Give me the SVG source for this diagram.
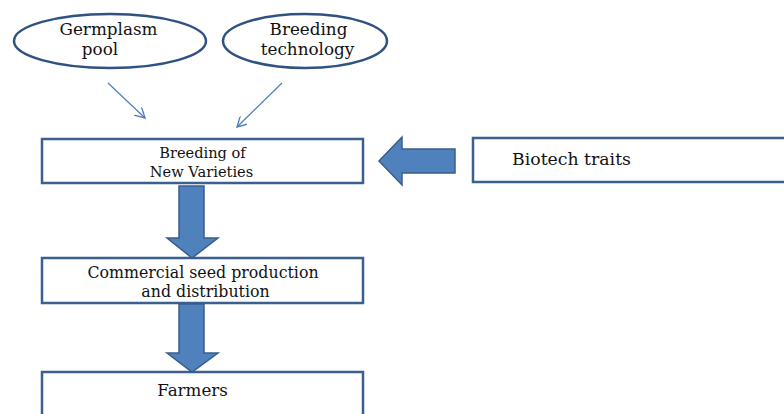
<svg xmlns="http://www.w3.org/2000/svg" width="784" height="414" viewBox="0 0 784 414">
  <defs>
    <style>
      .oval { fill: #ffffff; stroke: #2f5283; stroke-width: 2.5; }
      .box { fill: #ffffff; stroke: #3b5f8e; stroke-width: 2.5; }
      .block { fill: #4f81bd; stroke: #385d8a; stroke-width: 1.5; }
      .thin { fill: none; stroke: #4a7ebb; stroke-width: 1.2; }
      text { font-family: "DejaVu Serif", "Liberation Serif", serif; fill: #111111; }
      .lg { font-size: 17.3px; }
      .ov { font-size: 16.8px; }
      .md { font-size: 15.8px; }
      .fm { font-size: 16.7px; }
      .sm { font-size: 14.6px; }
    </style>
    <marker id="vhead" viewBox="0 0 10 10" refX="9" refY="5" markerWidth="11" markerHeight="11" markerUnits="userSpaceOnUse" orient="auto">
      <path d="M0,0 L9,5 L0,10" fill="none" stroke="#4a7ebb" stroke-width="1.2"/>
    </marker>
  </defs>

  <g id="germplasm-pool">
    <ellipse class="oval" cx="110" cy="41" rx="96" ry="27"/>
    <text class="ov" x="108.5" y="35" text-anchor="middle">Germplasm</text>
    <text class="ov" x="100" y="55" text-anchor="middle">pool</text>
  </g>

  <g id="breeding-technology">
    <ellipse class="oval" cx="305" cy="41" rx="82" ry="27"/>
    <text class="ov" x="308.5" y="35" text-anchor="middle">Breeding</text>
    <text class="ov" x="307.5" y="55" text-anchor="middle">technology</text>
  </g>

  <g id="breeding-new-varieties">
    <rect class="box" x="42" y="139" width="321" height="44"/>
    <text class="sm" x="202.5" y="158" text-anchor="middle">Breeding of</text>
    <text class="sm" x="201.5" y="177" text-anchor="middle">New Varieties</text>
  </g>

  <g id="biotech-traits">
    <rect class="box" x="473" y="138" width="320" height="44"/>
    <text class="lg" x="512" y="165">Biotech traits</text>
  </g>

  <g id="commercial-seed">
    <rect class="box" x="42" y="258" width="321" height="45"/>
    <text class="md" x="203" y="278" text-anchor="middle">Commercial seed production</text>
    <text class="md" x="205.5" y="297" text-anchor="middle">and distribution</text>
  </g>

  <g id="farmers">
    <rect class="box" x="42" y="372" width="321" height="60"/>
    <text class="fm" x="192.5" y="396" text-anchor="middle">Farmers</text>
  </g>

  <g id="connectors">
    <line class="thin" x1="108" y1="83" x2="145" y2="118" marker-end="url(#vhead)"/>
    <line class="thin" x1="282" y1="83" x2="237" y2="127" marker-end="url(#vhead)"/>
    <path class="block" d="M179,186 H204 V238 H218 L192,258 L167,238 H179 Z"/>
    <path class="block" d="M179,304 H204 V353 H218 L192,372 L167,353 H179 Z"/>
    <path class="block" d="M455,149 V173 H402 V185 L379,161 L402,137 V149 Z"/>
  </g>
</svg>
